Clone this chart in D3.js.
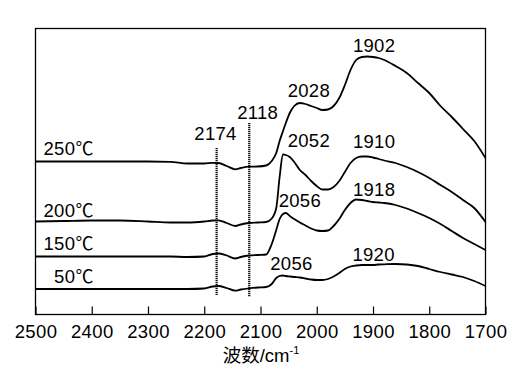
<!DOCTYPE html>
<html>
<head>
<meta charset="utf-8">
<script src="https://cdn.jsdelivr.net/npm/d3@7"></script>
<style>
html,body{margin:0;padding:0;background:#fff;}
svg{display:block;}
</style>
</head>
<body>
<svg id="chart" width="519" height="369"></svg>
<script>
// ---- data (wavenumber grid, absorbance in arbitrary units, offset per temperature) ----
const wavenumbers = [2500,2450,2400,2350,2300,2260,2230,2200,2185,2175,2160,2145,2135,2120,2105,2090,2080,2072,2066,2060,2055,2048,2040,2030,2020,2010,2000,1990,1980,1970,1960,1950,1940,1930,1920,1910,1900,1890,1880,1860,1840,1820,1800,1780,1760,1740,1720,1700];

const s250 = [1.530,1.530,1.530,1.530,1.530,1.527,1.510,1.510,1.517,1.515,1.485,1.452,1.465,1.478,1.480,1.490,1.535,1.615,1.735,1.835,1.915,2.015,2.085,2.115,2.105,2.085,2.065,2.045,2.050,2.085,2.165,2.295,2.445,2.545,2.575,2.580,2.575,2.565,2.545,2.485,2.415,2.315,2.215,2.085,1.975,1.855,1.735,1.565];
const s200 = [0.930,0.935,0.940,0.940,0.930,0.920,0.920,0.930,0.940,0.942,0.915,0.885,0.900,0.915,0.920,0.925,0.960,1.065,1.375,1.600,1.595,1.575,1.525,1.445,1.395,1.335,1.285,1.250,1.250,1.275,1.335,1.425,1.515,1.565,1.580,1.580,1.570,1.555,1.540,1.515,1.475,1.425,1.365,1.295,1.225,1.145,1.065,0.925];
const s150 = [0.580,0.580,0.580,0.580,0.580,0.580,0.575,0.580,0.605,0.610,0.590,0.560,0.575,0.590,0.595,0.600,0.705,0.845,0.955,1.005,1.015,0.985,0.955,0.920,0.890,0.860,0.840,0.835,0.840,0.885,0.955,1.045,1.115,1.150,1.145,1.135,1.125,1.120,1.115,1.095,1.060,1.015,0.965,0.905,0.835,0.765,0.705,0.645];
const s50  = [0.255,0.255,0.255,0.255,0.255,0.255,0.255,0.260,0.280,0.285,0.265,0.238,0.250,0.262,0.270,0.275,0.305,0.365,0.385,0.390,0.385,0.380,0.375,0.370,0.360,0.350,0.345,0.345,0.355,0.380,0.415,0.455,0.480,0.490,0.495,0.495,0.495,0.500,0.502,0.505,0.500,0.485,0.455,0.425,0.400,0.375,0.335,0.285];

const seriesNames = ["250℃","200℃","150℃","50℃"];
const seriesLabelWn = [2486,2486,2486,2397];
const seriesLabelVal = [1.595,0.978,0.645,0.312];
const seriesLabelAnchor = ["start","start","start","end"];

const xTicks = [2500,2400,2300,2200,2100,2000,1900,1800,1700];

const peakLabels = ["2174","2118","2028","2052","1902","1910","2056","1918","2056","1920"];
const peakLabelWn = [2180,2105,2014,2014,1898,1898,2030,1898,2045,1899];
const peakLabelVal = [1.745,1.952,2.172,1.678,2.622,1.662,1.078,1.185,0.445,0.538];

const refLineWn = [2178,2120];
const refLineTop = [1.665,1.915];
const refLineBottom = [0.195,0.178];

// ---- drawing ----
const svg = d3.select("#chart");
const pL = 35.5, pR = 485.5, pT = 28.5, pB = 314.5;
const x = d3.scaleLinear().domain([2500,1700]).range([pL,pR]);
const y = d3.scaleLinear().domain([0,2.86]).range([pB,pT]);

const latin = "'Liberation Sans', Arial, Helvetica, sans-serif";
const cjk = "'Noto Sans CJK SC', 'Noto Sans CJK JP', sans-serif";

// frame
svg.append("rect").attr("x",pL).attr("y",pT).attr("width",pR-pL).attr("height",pB-pT)
  .attr("fill","none").attr("stroke","#000").attr("stroke-width",1.3);

// x axis ticks (inward) using d3 axis
const axis = d3.axisBottom(x).tickValues(xTicks).tickSizeInner(-8).tickSizeOuter(0).tickFormat(d3.format("d"));
const gAxis = svg.append("g").attr("transform",`translate(0,${pB})`).call(axis);
gAxis.select(".domain").remove();
gAxis.selectAll(".tick line").attr("stroke","#000").attr("stroke-width",1.2);
gAxis.selectAll(".tick text").attr("font-family",latin).attr("font-size",18.5).attr("fill","#000")
  .attr("letter-spacing","0.4px").attr("y",23.5).attr("dy",null);

// axis title
const title = svg.append("text").attr("x",261).attr("y",362).attr("text-anchor","middle")
  .attr("font-size",18.5).attr("fill","#000");
title.append("tspan").attr("font-family",cjk).text("波数");
title.append("tspan").attr("font-family",latin).text("/cm");
title.append("tspan").attr("font-family",latin).attr("font-size",11).attr("dy",-8).text("-1");

// reference dotted lines
refLineWn.forEach((w,i)=>{
  svg.append("line").attr("x1",x(w)).attr("x2",x(w)).attr("y1",y(refLineTop[i])).attr("y2",y(refLineBottom[i]))
    .attr("stroke","#111").attr("stroke-width",2.2).attr("stroke-dasharray","1.2,0.8");
});

// spectra
const allSeries = [s250,s200,s150,s50];
const line = d3.line().x(d=>x(d[0])).y(d=>y(d[1])).curve(d3.curveMonotoneX);
allSeries.forEach(s=>{
  svg.append("path").datum(wavenumbers.map((w,i)=>[w,s[i]]))
    .attr("d",line).attr("fill","none").attr("stroke","#000").attr("stroke-width",1.8)
    .attr("stroke-linejoin","round");
});

// temperature labels
seriesNames.forEach((n,i)=>{
  const t = svg.append("text").attr("x",x(seriesLabelWn[i])).attr("y",y(seriesLabelVal[i]))
    .attr("text-anchor",seriesLabelAnchor[i]).attr("font-size",18.5).attr("fill","#000");
  t.append("tspan").attr("font-family",latin).attr("letter-spacing","0.4px").text(n.replace("℃",""));
  t.append("tspan").attr("font-family",cjk).attr("font-size",18).text("℃");
});

// peak labels
peakLabels.forEach((p,i)=>{
  svg.append("text").attr("x",x(peakLabelWn[i])).attr("y",y(peakLabelVal[i]))
    .attr("text-anchor","middle").attr("font-family",latin).attr("font-size",18.5)
    .attr("letter-spacing","0.3px").attr("fill","#000").text(p);
});
</script>
</body>
</html>
